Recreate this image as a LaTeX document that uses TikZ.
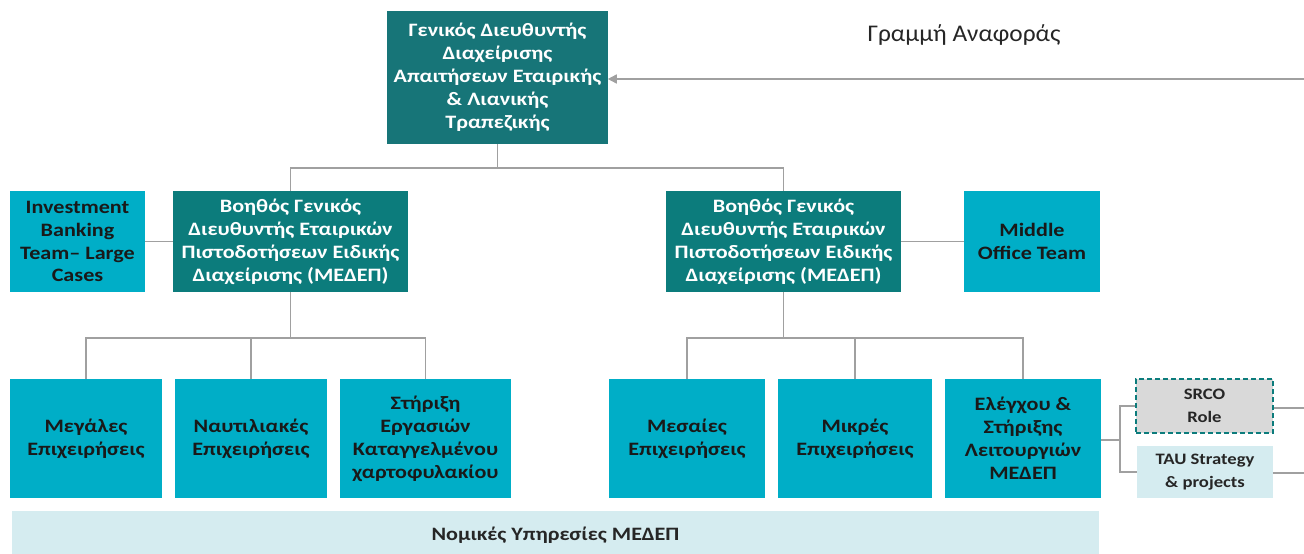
\documentclass[tikz,border=0pt]{standalone}
\usepackage{fontspec}
\setmainfont{Carlito}
\newfontfamily\boxfont{Carlito}[FakeStretch=1.17]
\newfontfamily\labelfont{Carlito}[FakeStretch=1.06]
\usepackage{tikz}
\usetikzlibrary{arrows.meta,positioning,calc}

\definecolor{headteal}{RGB}{23,117,120}
\definecolor{deputyteal}{RGB}{12,124,124}
\definecolor{unitcyan}{RGB}{0,174,199}
\definecolor{paleblue}{RGB}{213,236,240}
\definecolor{boxgray}{RGB}{217,217,217}
\definecolor{linegray}{RGB}{160,160,160}

\tikzset{
	orgbox/.style={rectangle, inner sep=0pt, align=center, font=\boxfont\bfseries\fontsize{19}{23}\selectfont},
	headbox/.style={orgbox, fill=headteal, text=white},
	deputybox/.style={orgbox, fill=deputyteal, text=white, minimum width=235, minimum height=101},
	unitbox/.style={orgbox, fill=unitcyan, text=black!90},
	palebox/.style={orgbox, fill=paleblue, text=black!85},
	smalltext/.style={font=\boxfont\bfseries\fontsize{16}{23}\selectfont},
	conn/.style={draw=linegray, line width=1.6pt},
}

\begin{document}
\begin{tikzpicture}[x=1bp,y=-1bp]
			\useasboundingbox (0,0) rectangle (1304,554);
			% head
			\node[headbox, minimum width=221, minimum height=133] (gd) at (497.5,77.5)
				{Γενικός Διευθυντής\\Διαχείρισης\\Απαιτήσεων Εταιρικής\\\& Λιανικής\\Τραπεζικής};
			\node[font=\labelfont\fontsize{24}{28}\selectfont, text=black!85] (reflabel) at (964,35) {Γραμμή Αναφοράς};
			\coordinate (refR) at (1304,79);
			% deputies
			\node[deputybox] (agdL) at (290.5,241.5)
				{Βοηθός Γενικός\\Διευθυντής Εταιρικών\\Πιστοδοτήσεων Ειδικής\\Διαχείρισης (ΜΕΔΕΠ)};
			\node[deputybox] (agdR) at (783.5,241.5)
				{Βοηθός Γενικός\\Διευθυντής Εταιρικών\\Πιστοδοτήσεων Ειδικής\\Διαχείρισης (ΜΕΔΕΠ)};
			\node[unitbox, minimum width=135, minimum height=101] (ib) at (77.5,241.5)
				{Investment\\Banking\\Team– Large\\Cases};
			\node[unitbox, minimum width=136, minimum height=101] (mot) at (1032,241.5)
				{Middle\\Office Team};
			% units
			\foreach \n/\x/\w/\t in {
				b1/86/152/{Μεγάλες\\Επιχειρήσεις},
				b2/251/152/{Ναυτιλιακές\\Επιχειρήσεις},
				b3/425.5/171/{Στήριξη\\Εργασιών\\Καταγγελμένου\\χαρτοφυλακίου},
				m1/687/156/{Μεσαίες\\Επιχειρήσεις},
				m2/855/154/{Μικρές\\Επιχειρήσεις},
				m3/1023/156/{Ελέγχου \&\\Στήριξης\\Λειτουργιών\\ΜΕΔΕΠ}} {
				\node[unitbox, minimum width=\w, minimum height=119] (\n) at (\x,438.5) {\t};
			}
			\node[palebox, minimum width=1091, minimum height=48] (legal) at (555.5,535)
				{Νομικές Υπηρεσίες ΜΕΔΕΠ};
			% side boxes
			\node[orgbox, smalltext, fill=boxgray, text=black!85, draw=deputyteal, line width=2pt,
				dash pattern=on 5pt off 3pt, minimum width=137, minimum height=54] (srco) at (1204.5,406) {SRCO\\Role};
			\node[palebox, smalltext, minimum width=136, minimum height=52] (tau) at (1205,472) {TAU Strategy\\\& projects};
			\coordinate (srcoR) at (1304,408);
			\coordinate (tauR) at (1304,473);
			\coordinate (sideBus) at (1120,440);
			% buses
			\coordinate (busTop) at (0,168);
			\coordinate (busLow) at (0,338);
			% connectors
			\draw[conn, -{Triangle[length=9bp,width=9bp]}] (refR) -- (refR -| gd.east);
			\draw[conn] (gd.south) -- (gd.south |- busTop);
			\draw[conn] (agdL.north) |- (busTop -| agdR.north) -- (agdR.north);
			\draw[conn] (ib.east) -- (agdL.west);
			\draw[conn] (agdR.east) -- (mot.west);
			\draw[conn] (agdL.south) -- (agdL.south |- busLow);
			\draw[conn] (b1.north) |- (busLow -| b3.north) -- (b3.north);
			\draw[conn] (b2.north) -- (b2.north |- busLow);
			\draw[conn] (agdR.south) -- (agdR.south |- busLow);
			\draw[conn] (m1.north) |- (busLow -| m3.north) -- (m3.north);
			\draw[conn] (m2.north) -- (m2.north |- busLow);
			\draw[conn] (m3.east |- sideBus) -- (sideBus);
			\draw[conn] (srco.west) -| (sideBus) |- (tau.west);
			\draw[conn] (srco.east |- srcoR) -- (srcoR);
			\draw[conn] (tau.east |- tauR) -- (tauR);
		\end{tikzpicture}
\end{document}
